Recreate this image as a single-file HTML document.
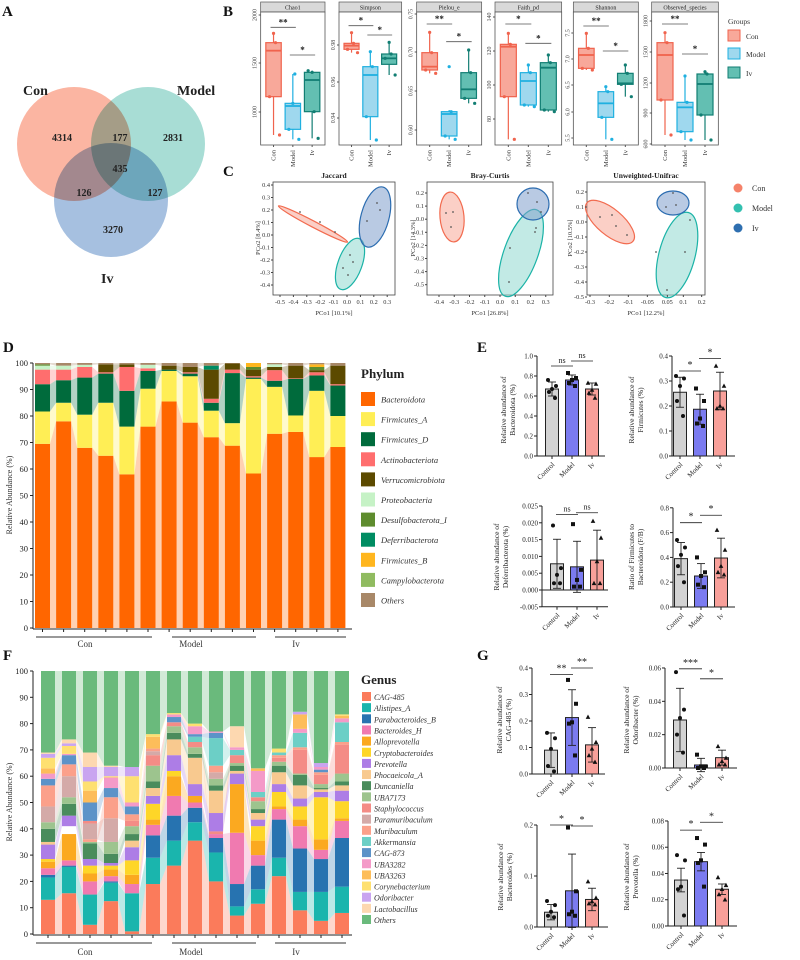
<!DOCTYPE html>
<html><head><meta charset="utf-8"><style>
html,body{margin:0;padding:0;background:#fff;}
svg{display:block;font-family:"Liberation Serif",serif;}
</style></head><body>
<svg id="s" xmlns="http://www.w3.org/2000/svg" width="800" height="960" viewBox="0 0 800 960">
<rect width="800" height="960" fill="#fff"/>
<g font-weight="bold" font-size="15" fill="#111">
<text x="2" y="16">A</text><text x="223" y="16">B</text><text x="223" y="176">C</text>
<text x="3" y="352">D</text><text x="477" y="352">E</text><text x="3" y="660">F</text><text x="477" y="660">G</text>
</g>
<!-- Venn -->
<g style="isolation:isolate">
<circle cx="74" cy="144" r="57" fill="#fbb5a2" style="mix-blend-mode:multiply"/>
<circle cx="148" cy="144" r="57" fill="#a8ddd5" style="mix-blend-mode:multiply"/>
<circle cx="111" cy="200" r="57" fill="#a6c0e0" style="mix-blend-mode:multiply"/>
</g>
<g font-weight="bold" fill="#222">
<text x="23" y="95" font-size="14">Con</text><text x="177" y="95" font-size="14">Model</text><text x="101" y="283" font-size="14">Iv</text>
<g font-size="10" text-anchor="middle">
<text x="62" y="141">4314</text><text x="120" y="141">177</text><text x="173" y="141">2831</text>
<text x="120" y="172">435</text><text x="84" y="196">126</text><text x="155" y="196">127</text><text x="113" y="233">3270</text></g>
</g>
<!-- B legend -->
<g font-size="7.5" fill="#333">
<text x="728" y="24">Groups</text>
<rect x="728" y="30" width="12" height="11" fill="#f8a89a" stroke="#f0634d"/><text x="746" y="39">Con</text>
<rect x="728" y="48" width="12" height="11" fill="#9fd8ee" stroke="#1fb0e0"/><text x="746" y="57">Model</text>
<rect x="728" y="67" width="12" height="11" fill="#63bfb2" stroke="#127e73"/><text x="746" y="76">Iv</text>
</g>
<!-- C legend -->
<g font-size="8" fill="#333">
<circle cx="738" cy="188" r="4.5" fill="#f5826a"/><text x="752" y="191">Con</text>
<circle cx="738" cy="208" r="4.5" fill="#33c0b0"/><text x="752" y="211">Model</text>
<circle cx="738" cy="228" r="4.5" fill="#2e6fb0"/><text x="752" y="231">Iv</text>
</g>
<g font-size="7.5" font-weight="bold" text-anchor="middle" fill="#222">
<text x="334" y="178">Jaccard</text><text x="490" y="178">Bray-Curtis</text><text x="646" y="178">Unweighted-Unifrac</text>
</g>
<g font-size="6.5" text-anchor="middle" fill="#333">
<text x="334" y="315">PCo1 [10.1%]</text><text x="490" y="315">PCo1 [26.8%]</text><text x="646" y="315">PCo1 [12.2%]</text>
<text transform="translate(260,238) rotate(-90)">PCo2 [8.4%]</text>
<text transform="translate(415,238) rotate(-90)">PCo2 [14.3%]</text>
<text transform="translate(572,238) rotate(-90)">PCo2 [10.5%]</text>
</g>
<!-- D legend -->
<text x="361" y="378" font-size="13" font-weight="bold" fill="#222">Phylum</text>
<g font-size="8.5" font-style="italic" fill="#333" id="dleg"></g>
<text x="361" y="684" font-size="13" font-weight="bold" fill="#222">Genus</text>
<g font-size="8" font-style="italic" fill="#333" id="fleg"></g>
<g font-size="9" fill="#333" text-anchor="middle">
<text x="85" y="647">Con</text><text x="191" y="647">Model</text><text x="296" y="647">Iv</text>
<text x="85" y="955">Con</text><text x="191" y="955">Model</text><text x="296" y="955">Iv</text>
</g>
<g stroke="#333" stroke-width="1">
<line x1="36" y1="637" x2="152" y2="637"/><line x1="172" y1="637" x2="256" y2="637"/><line x1="275" y1="637" x2="346" y2="637"/>
<line x1="36" y1="943" x2="152" y2="943"/><line x1="172" y1="943" x2="256" y2="943"/><line x1="275" y1="943" x2="346" y2="943"/>
</g>
<g font-size="8" fill="#333" text-anchor="middle">
<text transform="translate(12,495) rotate(-90)">Relative Abundance (%)</text>
<text transform="translate(12,802) rotate(-90)">Relative Abundance (%)</text>
</g>
</svg>
<script>
const NS='http://www.w3.org/2000/svg';const S=document.getElementById('s');
function el(t,a,txt,p){const e=document.createElementNS(NS,t);for(const k in a)e.setAttribute(k,a[k]);if(txt!=null)e.textContent=txt;(p||S).appendChild(e);return e;}
function stack(data,colors,x0,pitch,w,y0,sc){
 const segs=data.map(b=>{let pr=0;const m={};b.forEach(([i,t])=>{if(t>pr){m[i]=[pr,t];pr=t;}});if(pr<100)m[colors.length-1]=[pr,100];return m;});
 for(let j=0;j<segs.length-1;j++){const a=segs[j],b=segs[j+1];const xa=x0+j*pitch+w,xb=x0+(j+1)*pitch;
  for(const i in a){if(b[i])el('polygon',{points:`${xa},${y0-a[i][0]*sc} ${xa},${y0-a[i][1]*sc} ${xb},${y0-b[i][1]*sc} ${xb},${y0-b[i][0]*sc}`,fill:colors[i],'fill-opacity':0.3});}}
 segs.forEach((m,j)=>{for(const i in m)el('rect',{x:x0+j*pitch,y:y0-m[i][1]*sc,width:w,height:(m[i][1]-m[i][0])*sc,fill:colors[i]});});
 el('line',{x1:33,y1:y0-100*sc,x2:33,y2:y0+1,stroke:'#222'});
 el('line',{x1:33,y1:y0+1,x2:352,y2:y0+1,stroke:'#222'});
 for(let v=0;v<=100;v+=10){const y=y0-v*sc;el('line',{x1:30,y1:y,x2:33,y2:y,stroke:'#222'});el('text',{x:28,y:y+3,'font-size':8.5,'text-anchor':'end',fill:'#222'},String(v));}
 for(let j=0;j<data.length;j++){const x=x0+j*pitch+w/2;el('line',{x1:x,y1:y0+1,x2:x,y2:y0+4,stroke:'#222'});}
}
const pc=['#ff6600','#ffee55','#006b3c','#ff6e6e','#5c4a00','#c6f2c6','#5e8c2e','#008c62','#ffb61e','#90bb60','#a88868'];
const pn=['Bacteroidota','Firmicutes_A','Firmicutes_D','Actinobacteriota','Verrucomicrobiota','Proteobacteria','Desulfobacterota_I','Deferribacterota','Firmicutes_B','Campylobacterota','Others'];
const pd=[[[0,69.5],[1,81.7],[2,92],[3,97.5],[5,99],[6,99.5]],[[0,78],[1,85],[2,93.5],[3,97.5],[5,99]],[[0,68],[1,80.5],[2,94.5],[3,98.5],[5,99.3]],[[0,65],[1,85],[2,96],[3,96.5],[4,99.5]],[[0,58],[1,76],[2,89.5],[3,98.5],[4,99.5]],[[0,76],[1,90.3],[2,97],[3,98],[5,99.3]],[[0,85.5],[1,97],[2,97.5],[4,99]],[[0,77.5],[1,95],[2,96],[3,96.5],[4,98.5]],[[0,72],[1,82],[2,85],[3,86.5],[4,97.5],[7,99]],[[0,68.8],[1,77.3],[2,96.2],[3,97.5],[4,99.8]],[[0,58.3],[1,94],[2,94.5],[3,95],[4,97.5],[6,98.5],[8,100]],[[0,73.3],[1,91],[2,93.3],[3,97.3],[4,98.5],[5,99.5]],[[0,74],[1,80.2],[2,94],[3,94.2],[4,99]],[[0,64.5],[1,89.5],[2,95.3],[3,96.5],[4,97.3],[6,98.5],[8,99.5]],[[0,68.3],[1,80],[2,91.5],[3,92],[4,99]]];
stack(pd,pc,35,21.1,15,628,2.65);
const dl=document.getElementById('dleg');
pn.forEach((n,i)=>{const y=392+i*20.1;el('rect',{x:361,y:y,width:14,height:14,fill:pc[i]},null,dl);el('text',{x:381,y:y+10.5},n,dl);});
const gc=['#fb7b5b','#1ab5ad','#2773b0','#f07ab0','#fba920','#fed628','#ad7de6','#f8c98f','#4a8c5c','#9dc48e','#f48c86','#d4aaa8','#fba08a','#6ccfc6','#5c93c8','#f49ac8','#fdbd5a','#fee070','#c9a4f0','#fdd8b0','#6aba7c'];
const gn=['CAG-485','Alistipes_A','Parabacteroides_B','Bacteroides_H','Alloprevotella','Cryptobacteroides','Prevotella','Phocaeicola_A','Duncaniella','UBA7173','Staphylococcus','Paramuribaculum','Muribaculum','Akkermansia','CAG-873','UBA3282','UBA3263','Corynebacterium','Odoribacter','Lactobacillus','Others'];
const gd=[
[[0,13],[1,21.5],[2,22.5],[3,25],[4,27.5],[5,28.5],[6,34],[7,35],[8,40],[9,42.5],[11,48.5],[12,56.5],[14,59],[15,61],[16,63],[17,67],[18,68.5],[19,69]],
[[0,15.5],[1,25.5],[2,26],[3,28],[4,38],[17,41],[6,45],[8,49.5],[9,52],[11,60],[12,64.5],[14,68],[15,68.5],[17,71.5],[18,72.5],[19,74]],
[[0,3.5],[1,15],[3,20],[4,23],[5,26],[6,28.5],[8,34.5],[9,35],[12,36],[11,42],[10,43],[14,50],[16,54.5],[17,58],[18,63.5],[19,69]],
[[0,12.5],[1,19.5],[2,20],[3,22],[4,24.5],[5,26],[6,27],[8,30.5],[9,35],[11,44],[12,52],[14,55.5],[15,59.5],[17,60],[18,63.5],[19,64]],
[[0,1],[1,15.5],[3,19],[4,22.5],[5,28],[6,33],[7,35.5],[8,38],[9,41],[10,43],[12,45.5],[14,48.5],[15,50],[17,60],[18,63.5]],
[[0,19],[1,29],[2,37.5],[3,41.5],[4,43.5],[5,49.5],[6,52.5],[7,55.5],[8,58],[9,64],[10,68],[11,69.5],[12,70.5],[16,75],[17,76]],
[[0,26],[1,35.5],[2,45],[3,52.5],[4,60],[5,62],[6,68],[7,74],[8,76.5],[9,79],[10,80.5],[14,82.5],[15,83.5],[17,84]],
[[0,35.5],[1,42.5],[2,48],[3,50],[4,52.5],[6,57],[7,67],[8,68.5],[9,71],[10,73],[13,75],[14,76],[15,79],[17,80]],
[[0,20],[1,31],[2,36.5],[3,38],[10,39],[6,46],[7,54.5],[8,56.5],[9,59],[11,61.5],[12,64],[13,74.5],[14,76.5],[15,77]],
[[0,7],[1,10.5],[2,19],[3,38.5],[4,57],[6,61],[7,62],[8,64],[9,65],[10,68],[13,70],[15,71],[19,79]],
[[0,11.5],[1,17],[2,26],[3,30],[4,35.5],[5,41],[6,43.5],[7,46],[8,47.5],[9,50.5],[10,52],[13,54],[15,62],[16,63]],
[[0,22],[1,29],[2,43.5],[3,47.5],[4,48.5],[5,54],[6,57],[7,61.5],[8,64],[9,65.5],[10,67],[12,68],[13,69],[17,70.5]],
[[0,9],[1,16],[2,32.5],[3,41],[4,43.5],[5,48.5],[6,51.5],[7,56.5],[8,60.5],[9,61],[10,70],[12,71],[13,76.5],[15,78],[16,83.5],[18,84.5]],
[[0,5],[1,16],[2,28.5],[3,32],[4,36],[5,52],[6,54],[7,55],[8,55.5],[9,57],[10,60.5],[12,61.5],[14,62.5],[15,63.5],[18,65]],
[[0,8],[1,18],[2,36.5],[3,43],[4,44],[5,50.5],[6,54.5],[7,56.5],[8,58],[9,61],[10,72],[12,73],[13,80.5],[15,82],[16,83],[17,83.5]]];
stack(gd,gc,41,21,14,934,2.63);
const fl=document.getElementById('fleg');
gn.forEach((n,i)=>{const y=692+i*11.15;el('rect',{x:362,y:y,width:9,height:9,fill:gc[i]},null,fl);el('text',{x:374,y:y+8},n,fl);});
const bp=[
{n:'Chao1',x:[62,255],t:[[15,'2000'],[63,'1500'],[112,'1000']],b:[[128,152,290,100,405],[310,318,388,222,418],[217,240,335,212,415]],pts:[[100,128,290,405],[310,222,388,418],[217,335,212,415]],s:[[82,'**',0],[165,'*',1]]},
{n:'Simpson',x:[297,485],t:[[45,'0.98'],[82,'0.96'],[118,'0.94']],b:[[130,137,148,98,158],[200,225,350,155,420],[162,175,193,127,225]],pts:[[98,130,148,158],[155,200,350,420],[127,162,175,225]],s:[[77,'*',0],[105,'*',1]]},
{n:'Pielou_e',x:[530,725],t:[[14,'0.75'],[52,'0.70'],[91,'0.65'],[130,'0.60']],b:[[158,200,210,97,220],[335,342,408,330,418],[218,268,295,150,310]],pts:[[97,158,210,220],[200,335,408,418],[150,218,295,310]],s:[[72,'**',0],[125,'*',1]]},
{n:'Faith_pd',x:[765,965],t:[[17,'140'],[51,'120'],[85,'100'],[119,'80']],b:[[133,140,290,100,418],[218,243,315,195,320],[188,203,330,165,335]],pts:[[100,133,290,418],[195,218,315,320],[165,188,330,335]],s:[[72,'*',0],[130,'*',1]]},
{n:'Shannon',x:[1000,1195],t:[[33,'7.5'],[59,'7.0'],[85,'6.5'],[112,'6.0'],[138,'5.5']],b:[[145,165,205,100,210],[275,310,352,260,418],[220,250,253,195,290]],pts:[[100,145,205,210],[260,275,352,418],[195,220,253,290]],s:[[78,'**',0],[153,'*',1]]},
{n:'Observed_species',x:[1235,1435],t:[[21,'1800'],[52,'1500'],[83,'1200'],[113,'900'],[144,'600']],b:[[128,165,300,98,405],[307,322,395,228,420],[222,252,345,215,420]],pts:[[98,128,300,405],[228,307,395,420],[215,222,345,420]],s:[[72,'**',0],[162,'*',1]]}];
const bc=[['#f0634d','#f8a89a'],['#1fb0e0','#9fd8ee'],['#127e73','#63bfb2']];
const gl=['Con','Model','Iv'];
bp.forEach(p=>{const L=240+p.x[0]/3,R=240+p.x[1]/3,W=R-L;
 el('rect',{x:L,y:2,width:W,height:10,fill:'#d9d9d9',stroke:'#555','stroke-width':0.7});
 el('text',{x:(L+R)/2,y:9.5,'font-size':6,'text-anchor':'middle',fill:'#222'},p.n);
 el('rect',{x:L,y:12,width:W,height:133,fill:'#fff',stroke:'#555','stroke-width':0.8});
 p.t.forEach(([y,s])=>{el('line',{x1:L-2,y1:y,x2:L,y2:y,stroke:'#555'});el('text',{transform:`translate(${L-4},${y}) rotate(-90)`,'font-size':6,'text-anchor':'middle',fill:'#444'},s);});
 const cx=[L+W*0.2,L+W*0.5,L+W*0.8],bw=W*0.24;
 p.b.forEach((b,k)=>{const [q3,md,q1,wt,wb]=b.map(v=>v/3);const c=bc[k];
  el('line',{x1:cx[k],y1:wt,x2:cx[k],y2:wb,stroke:c[0],'stroke-width':1.2});
  el('rect',{x:cx[k]-bw/2,y:q3,width:bw,height:Math.max(q1-q3,1),fill:c[1],stroke:c[0],'stroke-width':1.2});
  el('line',{x1:cx[k]-bw/2,y1:md,x2:cx[k]+bw/2,y2:md,stroke:c[0],'stroke-width':1.8});
  p.pts[k].forEach((v,i)=>el('circle',{cx:cx[k]+(i%2?4:-4)*(i/2),cy:v/3,r:1.6,fill:c[0]}));
  el('line',{x1:cx[k],y1:145,x2:cx[k],y2:147,stroke:'#555'});
  el('text',{transform:`translate(${cx[k]+2},150) rotate(-90)`,'font-size':6.5,'text-anchor':'end',fill:'#333'},gl[k]);});
 p.s.forEach(([y,s,k])=>{const a=cx[k]-3,b=cx[k+1]+3;el('line',{x1:a,y1:y/3,x2:b,y2:y/3,stroke:'#555','stroke-width':0.8});el('text',{x:(a+b)/2,y:y/3-2,'font-size':9,'text-anchor':'middle',fill:'#222','font-weight':'bold'},s);});
});
function pcoa(L,R,xt,yt,ells,pts){
 el('rect',{x:L,y:182,width:R-L,height:113,fill:'#fff',stroke:'#444','stroke-width':0.8});
 ells.forEach(e=>el('ellipse',{cx:e[0],cy:e[1],rx:e[2],ry:e[3],transform:`rotate(${e[4]} ${e[0]} ${e[1]})`,fill:e[5],'fill-opacity':0.55,stroke:e[6],'stroke-width':1.2}));
 pts.forEach(p=>el('circle',{cx:p[0],cy:p[1],r:0.9,fill:'#555'}));
 xt.forEach(([x,s])=>{el('line',{x1:x,y1:295,x2:x,y2:297,stroke:'#444'});el('text',{x:x,y:304,'font-size':6.3,'text-anchor':'middle',fill:'#333'},s);});
 yt.forEach(([y,s])=>{el('line',{x1:L-2,y1:y,x2:L,y2:y,stroke:'#444'});el('text',{x:L-3,y:y+2,'font-size':6.3,'text-anchor':'end',fill:'#333'},s);});
}
const CO=['#f7a898','#f26b4f'],MO=['#8fd9cf','#1bb3a7'],IV=['#7f9fcc','#2b6cb0'];
pcoa(273,395,[-0.5,-0.4,-0.3,-0.2,-0.1,0,0.1,0.2,0.3].map(v=>[280+(v+0.5)*134,v===0?'0.0':String(v)]),
 [0.4,0.3,0.2,0.1,0,-0.1,-0.2,-0.3,-0.4].map(v=>[185+(0.4-v)*125,v===0?'0.0':String(v)]),
 [[313,224,39,3,27.6,CO[0],CO[1]],[350,264,12,27,20,MO[0],MO[1]],[375,217,14,31,15,IV[0],IV[1]]],
 [[300,212],[320,222],[335,232],[350,255],[353,262],[343,268],[348,275],[367,221],[377,203],[380,210]]);
pcoa(427,553,[-0.4,-0.3,-0.2,-0.1,0,0.1,0.2,0.3].map(v=>[439+(v+0.4)*152.5,v===0?'0.0':String(v)]),
 [0.2,0.1,0,-0.1,-0.2,-0.3,-0.4,-0.5].map(v=>[193+(0.2-v)*131,v===0?'0.0':String(v)]),
 [[452,217,12,25,-5,CO[0],CO[1]],[521,253,17,46,20,MO[0],MO[1]],[533,204,16,16,0,IV[0],IV[1]]],
 [[453,212],[446,213],[451,227],[510,248],[509,282],[536,228],[535,232],[528,193],[537,202],[541,212]]);
const ux={'-0.3':1050,'-0.2':1108,'-0.1':1165,'-0.05':1222,'0.05':1282,'0.1':1330,'0.2':1385};
pcoa(587,705,Object.entries(ux).map(([s,z])=>[240+z/3,s]),
 [0.2,0.1,0,-0.1,-0.2,-0.3,-0.4,-0.5].map(v=>[192+(0.2-v)*150,v===0?'0.0':String(v)]),
 [[610,222,30,13,40,CO[0],CO[1]],[677,255,18,44,15,MO[0],MO[1]],[673,203,16,12,0,IV[0],IV[1]]],
 [[600,217],[612,215],[616,226],[627,235],[656,252],[667,290],[685,252],[690,220],[673,193],[676,205],[666,207]]);
function bchart(o){
 const y=v=>o.y0-(v)*o.sc;
 const xb=o.xr;
 el('line',{x1:o.ax,y1:y(o.tk[o.tk.length-1]),x2:o.ax,y2:y(o.tk[0]),stroke:'#222','stroke-width':1});
 el('line',{x1:o.ax,y1:y(o.tk[0]),x2:xb,y2:y(o.tk[0]),stroke:'#222','stroke-width':1});
 if(o.tk[0]<0)el('line',{x1:o.ax,y1:y(0),x2:xb,y2:y(0),stroke:'#222','stroke-width':1});
 o.tk.forEach(v=>{el('line',{x1:o.ax-3,y1:y(v),x2:o.ax,y2:y(v),stroke:'#222'});el('text',{x:o.ax-4,y:y(v)+2.5,'font-size':7,'text-anchor':'end',fill:'#222'},v.toFixed(o.d));});
 const fc=['#d3d3d3','#7b7bf0','#f8a09a'];
 o.b.forEach((b,k)=>{const cx=o.cx[k];
  el('rect',{x:cx-6.5,y:Math.min(y(b[0]),y(0)),width:13,height:Math.abs(b[0])*o.sc,fill:fc[k],stroke:'#222','stroke-width':1});
  el('line',{x1:cx,y1:y(b[0]-b[1]),x2:cx,y2:y(b[0]+b[1]),stroke:'#222','stroke-width':0.9});
  [b[0]-b[1],b[0]+b[1]].forEach(v=>el('line',{x1:cx-4,y1:y(v),x2:cx+4,y2:y(v),stroke:'#222','stroke-width':0.9}));
  b[2].forEach((v,i)=>{const px=cx+[-4,4,0,-3,3][i],py=y(v);
   if(k==0)el('circle',{cx:px,cy:py,r:2,fill:'#111'});
   else if(k==1)el('rect',{x:px-2,y:py-2,width:4,height:4,fill:'#111'});
   else el('polygon',{points:`${px},${py-2.5} ${px-2.3},${py+1.8} ${px+2.3},${py+1.8}`,fill:'#111'});});
  el('line',{x1:cx,y1:y(o.tk[0]),x2:cx,y2:y(o.tk[0])+3,stroke:'#222'});
  el('text',{transform:`translate(${cx+3},${y(o.tk[0])+9}) rotate(-45)`,'font-size':7,'text-anchor':'end',fill:'#222'},['Control','Model','Iv'][k]);});
 o.s.forEach(([v,s,k])=>{const a=o.cx[k]-1,b2=o.cx[k+1]+1;el('line',{x1:a,y1:y(v),x2:b2,y2:y(v),stroke:'#222','stroke-width':0.8});el('text',{x:(a+b2)/2,y:y(v)-3,'font-size':s=='ns'?8:10,'text-anchor':'middle',fill:'#222'},s);});
 o.yl.forEach((t,i)=>el('text',{transform:`translate(${o.lx+i*9},${o.lc}) rotate(-90)`,'font-size':7.5,'text-anchor':'middle',fill:'#222'},t));
}
bchart({ax:537,xr:605,y0:456,sc:100,tk:[0,.2,.4,.6,.8,1],d:1,cx:[552,572,592],b:[[.67,.07,[.76,.70,.67,.64,.58]],[.76,.05,[.83,.78,.76,.73,.70]],[.67,.06,[.73,.72,.66,.63,.58]]],s:[[.9,'ns',0],[.95,'ns',1]],yl:['Relative abundance of','Bacteroidota (%)'],lx:506,lc:410});
bchart({ax:672,xr:735,y0:456,sc:250,tk:[0,.1,.2,.3,.4],d:1,cx:[680,700,720],b:[[.255,.06,[.32,.31,.28,.22,.16]],[.187,.06,[.27,.22,.15,.13,.12]],[.26,.075,[.36,.28,.20,.19,.19]]],s:[[.34,'*',0],[.39,'*',1]],yl:['Relative abundance of','Firmicutes (%)'],lx:634,lc:410});
bchart({ax:542,xr:608,y0:590,sc:3360,tk:[-.005,0,.005,.01,.015,.02,.025],d:3,cx:[557,577,597],b:[[.0078,.0073,[.0192,.0065,.0045,.002,.002]],[.0069,.0076,[.0196,.006,.003,.001,.001]],[.0089,.0089,[.0205,.0155,.0085,.002,.002]]],s:[[.0225,'ns',0],[.023,'ns',1]],yl:['Relative abundance of','Deferribacterota (%)'],lx:499,lc:557});
bchart({ax:673,xr:735,y0:607,sc:124,tk:[0,.2,.4,.6,.8],d:1,cx:[681,701,721],b:[[.39,.13,[.54,.48,.42,.33,.20]],[.25,.1,[.40,.28,.25,.18,.16]],[.395,.16,[.62,.46,.33,.28,.26]]],s:[[.68,'*',0],[.74,'*',1]],yl:['Ratio of Firmicutes to','Bacteroidota (F/B)'],lx:634,lc:557});
bchart({ax:532,xr:605,y0:774,sc:265,tk:[0,.1,.2,.3,.4],d:1,cx:[551,572,592],b:[[.09,.065,[.155,.135,.095,.03,.01]],[.213,.105,[.355,.265,.195,.19,.07]],[.11,.065,[.215,.12,.095,.07,.045]]],s:[[.375,'**',0],[.4,'**',1]],yl:['Relative abundance of','CAG-485 (%)'],lx:502,lc:720});
bchart({ax:665,xr:737,y0:768,sc:1667,tk:[0,.02,.04,.06],d:2,cx:[680,701,722],b:[[.0288,.019,[.0575,.035,.03,.02,.0092]],[.0018,.004,[.008,.001,.001,0,0]],[.0062,.0045,[.013,.006,.004,.002,.002]]],s:[[.0595,'***',0],[.0535,'*',1]],yl:['Relative abundance of','Odoribacter (%)'],lx:629,lc:720});
bchart({ax:537,xr:608,y0:927,sc:510,tk:[0,.1,.2],d:1,cx:[551,572,592],b:[[.029,.015,[.051,.043,.03,.022,.019]],[.071,.072,[.195,.07,.03,.025,.022]],[.054,.022,[.089,.057,.05,.046,.044]]],s:[[.2,'*',0],[.198,'*',1]],yl:['Relative abundance of','Bacteroides (%)'],lx:503,lc:877});
bchart({ax:668,xr:737,y0:926,sc:1313,tk:[0,.02,.04,.06,.08],d:2,cx:[681,701,722],b:[[.035,.009,[.054,.05,.03,.028,.008]],[.049,.007,[.067,.062,.05,.048,.03]],[.028,.004,[.037,.031,.028,.024,.02]]],s:[[.073,'*',0],[.079,'*',1]],yl:['Relative abundance of','Prevotella (%)'],lx:629,lc:877});
</script>
</body></html>
